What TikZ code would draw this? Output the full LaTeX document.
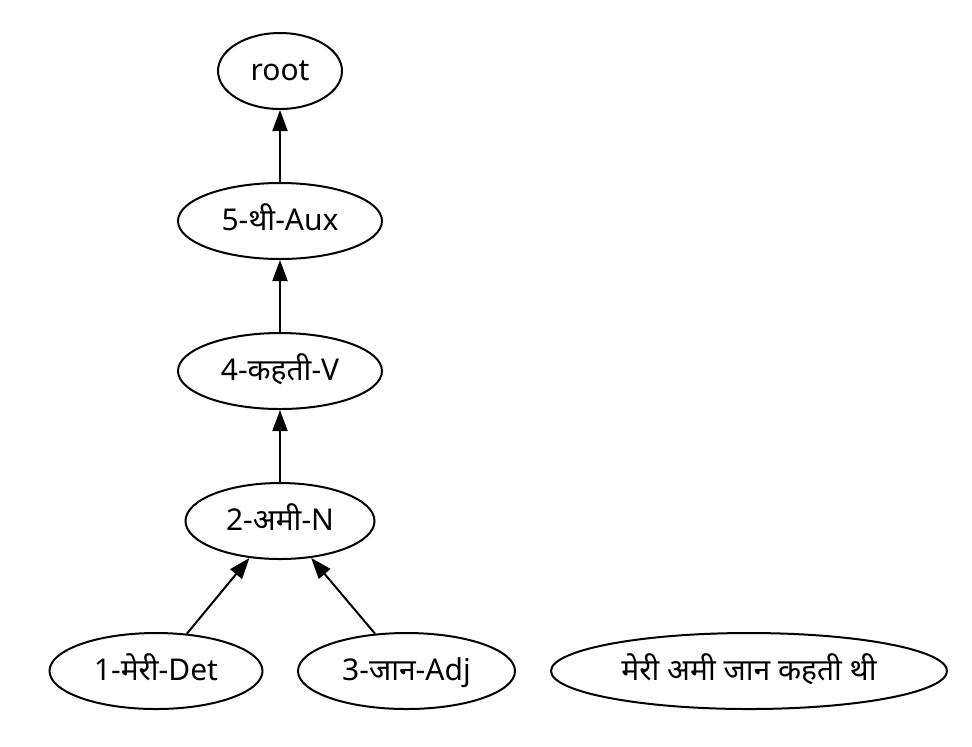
\documentclass[tikz,border=0pt]{standalone}
\usepackage{fontspec}
\setmainfont{Noto Sans}[Script=Devanagari]
\usetikzlibrary{shapes.geometric,arrows.meta}

\begin{document}
\begin{tikzpicture}[x=0.5pt, y=-0.5pt,
    tok/.style={draw, ellipse, line width=1pt, inner sep=0pt, minimum height=38pt, text height=12pt, text depth=3pt, font=\fontsize{15}{18}\selectfont},
    dep/.style={-{Triangle[length=10.5pt, width=7.5pt]}, line width=1pt}]
    \useasboundingbox (0,0) rectangle (972,746);

    \node[tok, minimum width=62pt] (root) at (280,71) {root};
    
    \node[tok, minimum width=102pt] (aux) at (280,221) {5-थी-Aux};
    
    \node[tok, minimum width=102pt] (verb) at (280,371) {4-कहती-V};
    
    \node[tok, minimum width=94.5pt] (noun) at (280,521) {2-अमी-N};
    
    \node[tok, minimum width=106.5pt] (det) at (156,671) {1-मेरी-Det};
    
    \node[tok, minimum width=108.5pt] (adj) at (406.5,671) {3-जान-Adj};
    
    \node[tok, minimum width=198pt] (sent) at (749,671) {मेरी अमी जान कहती थी};

    \draw[dep] (aux) -- (root);
    \draw[dep] (verb) -- (aux);
    \draw[dep] (noun) -- (verb);
    \draw[dep] (det) -- (noun);
    \draw[dep] (adj) -- (noun);

\end{tikzpicture}
\end{document}
